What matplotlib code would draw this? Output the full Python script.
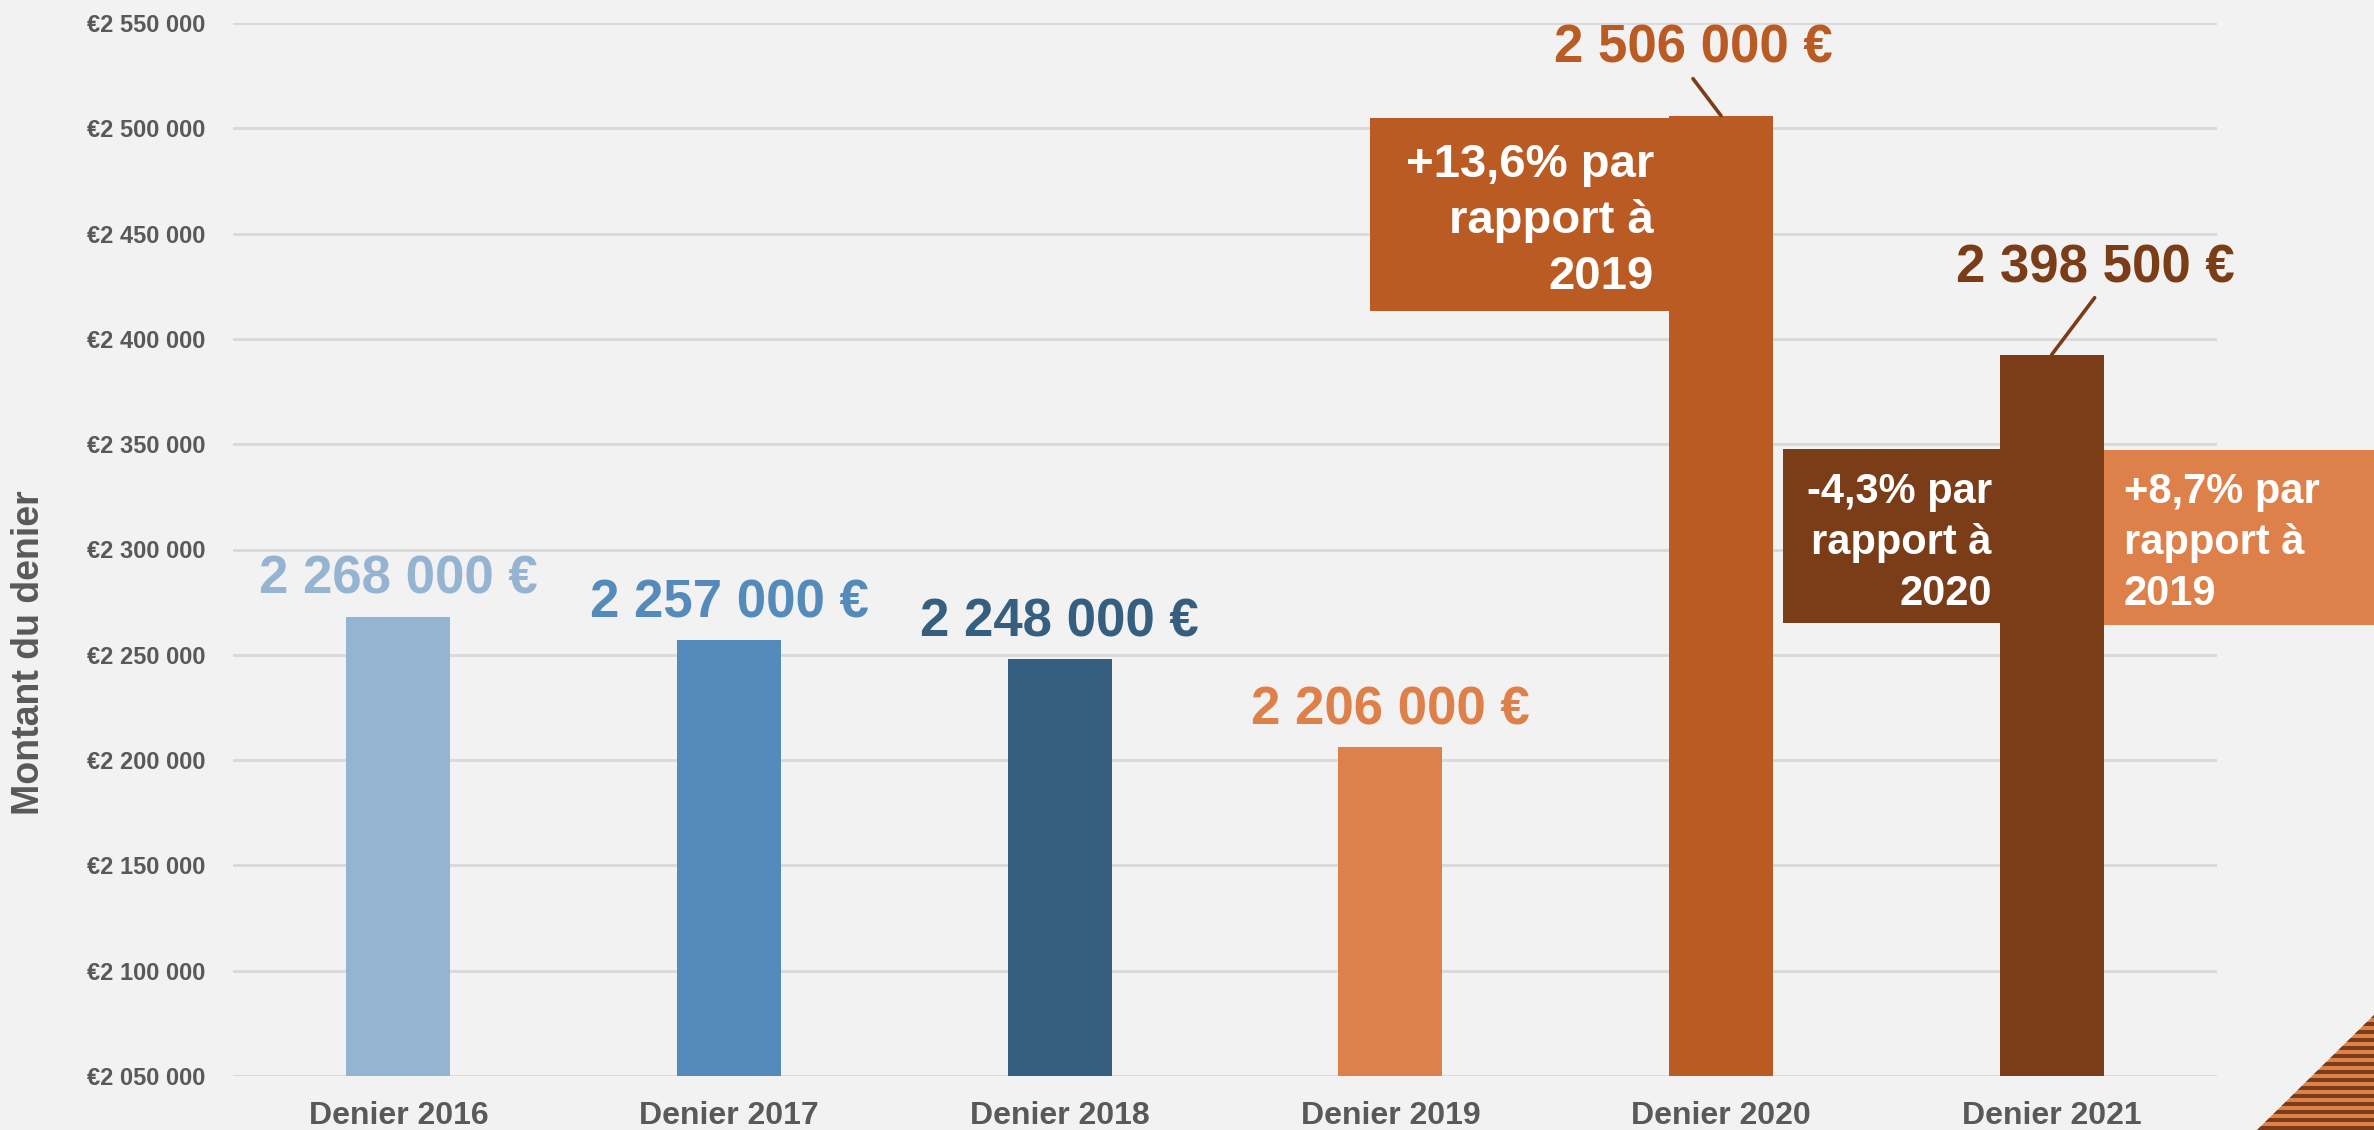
import matplotlib
matplotlib.use("Agg")
import matplotlib.pyplot as plt
from matplotlib.patches import Rectangle, Polygon

plt.rcParams['font.family'] = ['Liberation Sans', 'DejaVu Sans']
plt.rcParams['font.weight'] = 'bold'

# ---------------- data ----------------
categories = ["Denier 2016", "Denier 2017", "Denier 2018", "Denier 2019", "Denier 2020", "Denier 2021"]
values = [2268000, 2257000, 2248000, 2206000, 2506000, 2392500]
value_labels = ["2 268 000 €", "2 257 000 €", "2 248 000 €", "2 206 000 €", "2 506 000 €", "2 398 500 €"]
bar_colors = ["#95B4D2", "#558BBA", "#355E7F", "#DE8049", "#BA5B24", "#7B3C18"]
label_colors = ["#95B4D2", "#558BBA", "#355E7F", "#DE8049", "#BA5B24", "#7B3C18"]
y_ticks = [2050000, 2100000, 2150000, 2200000, 2250000, 2300000, 2350000, 2400000, 2450000, 2500000, 2550000]
y_tick_labels = ["€2 050 000", "€2 100 000", "€2 150 000", "€2 200 000", "€2 250 000", "€2 300 000",
                 "€2 350 000", "€2 400 000", "€2 450 000", "€2 500 000", "€2 550 000"]
y_label = "Montant du denier"
box_texts = ["+13,6% par\nrapport à\n2019", "-4,3% par\nrapport à\n2020", "+8,7% par\nrapport à\n2019"]

GRAY = "#595959"
BG = "#F2F2F2"
W, H = 2374, 1130

fig = plt.figure(figsize=(W / 100, H / 100), dpi=100, facecolor=BG)
ax = fig.add_axes([233 / W, (H - 1076) / H, (2217 - 233) / W, (1076 - 23) / H])
ax.set_facecolor(BG)

bw = 0.315
x = list(range(len(categories)))
ax.bar(x, values, width=bw, color=bar_colors, zorder=2)

ax.set_xlim(-0.5, 5.5)
ax.set_ylim(2050000, 2550000)
ax.set_yticks(y_ticks)
ax.set_yticklabels(y_tick_labels)
ax.set_xticks(x)
ax.set_xticklabels(categories)
ax.tick_params(axis='y', length=0, pad=20, labelsize=17, labelcolor=GRAY)
ax.tick_params(axis='x', length=0, pad=18, labelsize=23, labelcolor=GRAY)
for s in ax.spines.values():
    s.set_visible(False)
ax.yaxis.grid(True, color="#D9D9D9", lw=2, zorder=0)
ax.set_axisbelow(True)

fig.text(29 / W, 1 - 653 / H, y_label, rotation=90, ha='center', va='center',
         fontsize=27, fontweight='bold', color=GRAY)

# value labels over the first four bars
for i in range(4):
    ax.annotate(value_labels[i], xy=(x[i], values[i]), xytext=(0, 23), textcoords='offset pixels',
                ha='center', va='baseline', fontsize=38, fontweight='bold', color=label_colors[i],
                zorder=5)

# value labels with leader lines for 2020 and 2021
lead = {4: ((-28, 53), (-28, 37)), 5: ((44, 72), (43, 57))}
for i, (txt_off, line_off) in lead.items():
    ax.annotate(value_labels[i], xy=(x[i], values[i]), xytext=txt_off, textcoords='offset pixels',
                ha='center', va='baseline', fontsize=38, fontweight='bold', color=label_colors[i],
                zorder=5, annotation_clip=False)
    ax.annotate('', xy=(x[i], values[i]), xytext=line_off, textcoords='offset pixels',
                arrowprops=dict(arrowstyle='-', color="#7B3C18", lw=2.6, shrinkA=0, shrinkB=0),
                zorder=5, annotation_clip=False)

# comparison boxes
b1 = Rectangle((2.938, 2413250), (x[4] - bw / 2) - 2.938, 2504900 - 2413250,
               facecolor=bar_colors[4], edgecolor='none', zorder=3, clip_on=False)
b2 = Rectangle((4.187, 2265100), (x[5] - bw / 2) - 4.187, 2347700 - 2265100,
               facecolor=bar_colors[5], edgecolor='none', zorder=3, clip_on=False)
b3 = Rectangle((x[5] + bw / 2, 2264200), 1.5, 2347250 - 2264200,
               facecolor=bar_colors[3], edgecolor='none', zorder=3, clip_on=False)
for b in (b1, b2, b3):
    ax.add_patch(b)

ax.text(3.797, 2492990, box_texts[0], ha='right', va='top', multialignment='right',
        fontsize=34, fontweight='bold', color='white', linespacing=1.35, zorder=4, clip_on=False)
ax.text(4.819, 2336800, box_texts[1], ha='right', va='top', multialignment='right',
        fontsize=30, fontweight='bold', color='white', linespacing=1.35, zorder=4, clip_on=False)
ax.text(5.218, 2336800, box_texts[2], ha='left', va='top', multialignment='left',
        fontsize=30, fontweight='bold', color='white', linespacing=1.35, zorder=4, clip_on=False)

# decorative striped triangle (bottom-right)
tri = Polygon([(2257 / W, 0), (1, 0), (1, 115 / H)], closed=True, transform=fig.transFigure,
              facecolor="#DE8049", edgecolor='none')
fig.add_artist(tri)
period = 8
y0 = 0
while y0 < 120:
    r = Rectangle((2250 / W, y0 / H), 130 / W, 4 / H, transform=fig.transFigure,
                  facecolor="#7B3C18", edgecolor='none')
    fig.add_artist(r)
    r.set_clip_path(tri)
    y0 += period

fig.savefig("out.png", dpi=100, facecolor=BG)
